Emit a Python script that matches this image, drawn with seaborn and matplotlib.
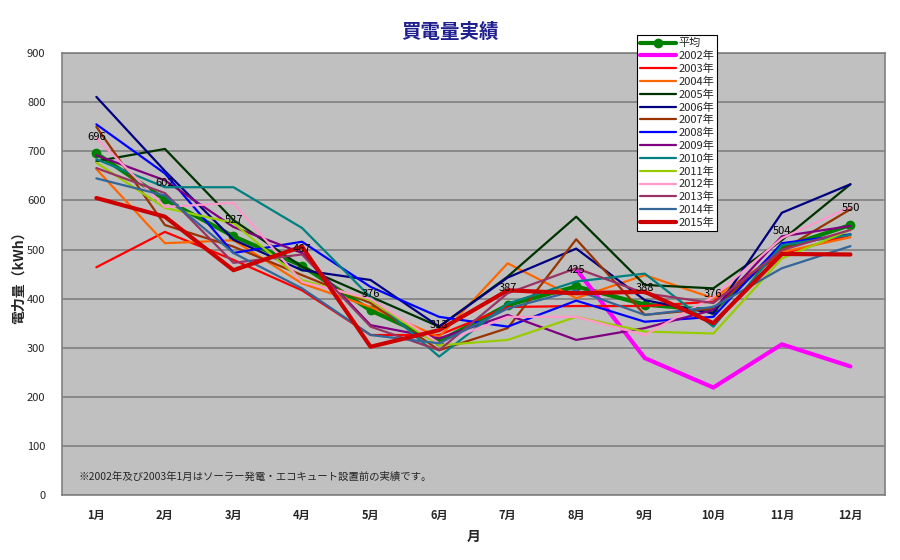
import numpy as np
import pandas as pd
import matplotlib
matplotlib.use("Agg")
import matplotlib.pyplot as plt
import seaborn as sns

nan = np.nan

# monthly purchased electricity (kWh)
months = ["1月", "2月", "3月", "4月", "5月", "6月", "7月", "8月", "9月", "10月", "11月", "12月"]
avg = [696, 602, 527, 467, 376, 313, 387, 425, 388, 376, 504, 550]
y2002 = [nan, nan, nan, nan, nan, nan, nan, 460, 279, 219, 307, 262]
y2003 = [464, 536, 479, 417, 326, 326, 383, 385, 385, 394, 491, 530]
y2004 = [664, 513, 519, 431, 383, 322, 472, 401, 448, 401, 495, 525]
y2005 = [680, 705, 560, 465, 404, 343, 445, 567, 428, 421, 519, 633]
y2006 = [811, 660, 520, 458, 438, 343, 443, 502, 397, 370, 575, 633]
y2007 = [750, 550, 506, 448, 391, 295, 340, 521, 367, 380, 499, 582]
y2008 = [755, 655, 493, 516, 424, 363, 343, 396, 353, 363, 513, 531]
y2009 = [692, 641, 546, 493, 346, 319, 367, 316, 340, 377, 527, 548]
y2010 = [684, 627, 627, 544, 403, 282, 390, 435, 451, 343, 509, 530]
y2011 = [677, 585, 554, 438, 397, 305, 316, 363, 333, 329, 482, 540]
y2012 = [727, 587, 595, 434, 400, 309, 363, 363, 326, 404, 523, 587]
y2013 = [666, 615, 473, 490, 343, 295, 411, 462, 411, 391, 499, 540]
y2014 = [645, 610, 493, 421, 326, 309, 380, 417, 367, 383, 462, 507]
y2015 = [605, 567, 458, 506, 302, 336, 417, 411, 414, 350, 491, 490]

series_names = ["平均", "2002年", "2003年", "2004年", "2005年", "2006年", "2007年", "2008年",
                "2009年", "2010年", "2011年", "2012年", "2013年", "2014年", "2015年"]
series_values = [avg, y2002, y2003, y2004, y2005, y2006, y2007, y2008,
                 y2009, y2010, y2011, y2012, y2013, y2014, y2015]
colors = ["#008000", "#FF00FF", "#FF0000", "#FF6600", "#003300", "#000080", "#993300",
          "#0000FF", "#800080", "#008080", "#99CC00", "#FF99CC", "#993366", "#336699", "#CC0000"]
widths = [3.0, 3.0, 1.6, 1.6, 1.6, 1.6, 1.6, 1.6, 1.6, 1.6, 1.6, 1.6, 1.6, 1.6, 3.0]

rows = []
for name, vals in zip(series_names, series_values):
    for i, v in enumerate(vals):
        rows.append({"series": name, "month": i, "kwh": v})
df = pd.DataFrame(rows)

sns.set_style("white", {"axes.facecolor": "#C0C0C0"})
plt.rcParams["font.family"] = ["Noto Sans CJK JP", "DejaVu Sans"]

fig = plt.figure(figsize=(9, 5.6), dpi=100)
ax = fig.add_axes([0.069, 0.116, 0.914, 0.789])

for k, name in enumerate(series_names):
    d = df[df["series"] == name].dropna()
    sns.lineplot(data=d, x="month", y="kwh", ax=ax, color=colors[k], lw=widths[k],
                 label=name, zorder=2 + k * 0.01,
                 marker="o" if name == "平均" else None, markersize=7,
                 markeredgewidth=0)

# data labels on the average line
for i, v in enumerate(avg):
    ax.annotate(str(v), (i, v), xytext=(0, 12), textcoords="offset points",
                ha="center", va="center", fontsize=8, color="black", zorder=5)

ax.set_xlim(-0.5, 11.5)
ax.set_ylim(0, 900)
ax.set_yticks(range(0, 901, 100))
ax.set_xticks(range(12))
ax.set_xticklabels(months, fontsize=8, fontweight="bold")
ax.set_xticks(np.arange(0.5, 11.5, 1), minor=True)
ax.tick_params(axis="x", which="major", length=0, pad=10)
ax.tick_params(axis="x", which="minor", direction="in", length=4, color="#808080")
ax.tick_params(axis="y", labelsize=8, length=0, pad=12)
ax.grid(axis="y", color="#808080", lw=1.2)
ax.set_axisbelow(True)
for s in ax.spines.values():
    s.set_color("#808080")
    s.set_linewidth(1.2)

ax.set_xlabel("月", fontsize=10, fontweight="bold", labelpad=6)
ax.set_ylabel("電力量（kWh）", fontsize=10, fontweight="bold", labelpad=1)
fig.text(0.5, 0.943, "買電量実績", ha="center", va="center", fontsize=14,
         fontweight="bold", color="#1F1F8F")

ax.text(0.02, 0.03, "※2002年及び2003年1月はソーラー発電・エコキュート設置前の実績です。",
        transform=ax.transAxes, fontsize=7.5, ha="left", va="bottom")

leg = ax.legend(loc="upper left", bbox_to_anchor=(637 / 900, 1 - 35 / 560),
                bbox_transform=fig.transFigure, fontsize=8, frameon=True,
                fancybox=False, edgecolor="black", framealpha=1, facecolor="white",
                handlelength=3.2, labelspacing=0.22, borderpad=0.3,
                handletextpad=0.2, borderaxespad=0)
leg.get_frame().set_linewidth(0.8)
leg.set_zorder(10)

fig.savefig("out.png", dpi=100, facecolor="white")
